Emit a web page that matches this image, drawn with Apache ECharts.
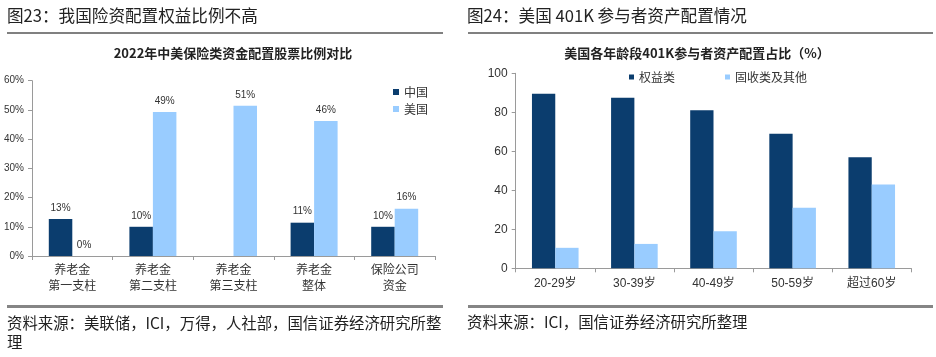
<!DOCTYPE html>
<html><head><meta charset="utf-8">
<script src="https://cdn.jsdelivr.net/npm/echarts@6/dist/echarts.min.js"></script>
<style>html,body{margin:0;padding:0;background:#fff}#c{width:936px;height:357px}</style>
</head><body><div id="c"></div>
<script>
// Left chart data
const leftCategories = ['养老金\n第一支柱', '养老金\n第二支柱', '养老金\n第三支柱', '养老金\n整体', '保险公司\n资金'];
const chinaValues = [12.7, 10.0, null, 11.4, 10.0];
const usValues = [0, 49.3, 51.4, 46.2, 16.2];
const leftTicks = [0, 10, 20, 30, 40, 50, 60];
// Right chart data
const rightCategories = ['20-29岁', '30-39岁', '40-49岁', '50-59岁', '超过60岁'];
const equityValues = [89.5, 87.5, 81.0, 69.0, 57.0];
const fixedValues = [10.5, 12.5, 19.0, 31.0, 43.0];
const rightTicks = [0, 20, 40, 60, 80, 100];

const DARK = '#0B3D6E', LIGHT = '#99CCFF';
const FONT = "'Liberation Sans','Noto Sans CJK SC',sans-serif";
const CJK = "'Noto Sans CJK SC',sans-serif";
const axisColor = '#9a9a9a';

const chart = echarts.init(document.getElementById('c'), null, {renderer: 'canvas'});

function yAxis(gridIndex, ticks, fmt, fs) {
  return {
    type: 'value', gridIndex, min: ticks[0], max: ticks[ticks.length - 1],
    interval: ticks[1] - ticks[0],
    axisLine: {show: true, lineStyle: {color: axisColor, width: 1}},
    axisTick: {show: true, length: 4, lineStyle: {color: axisColor}},
    splitLine: {show: false},
    axisLabel: {formatter: fmt, color: '#333', fontSize: fs, fontFamily: FONT, margin: 8}
  };
}
function xAxis(gridIndex, cats, margin, lh) {
  return {
    type: 'category', gridIndex, data: cats,
    axisLine: {show: true, lineStyle: {color: axisColor, width: 1}},
    axisTick: {show: true, length: 4, lineStyle: {color: axisColor}},
    axisLabel: {color: '#333', fontSize: 12, fontFamily: FONT, margin, lineHeight: lh, interval: 0}
  };
}

const graphics = [
  {type: 'text', left: 7, top: 7, style: {text: '图23：我国险资配置权益比例不高', font: '16.6px ' + CJK, fill: '#222'}},
  {type: 'text', left: 467, top: 7, style: {text: '图24：美国 401K 参与者资产配置情况', font: '16.6px ' + CJK, fill: '#222'}},
  {type: 'line', shape: {x1: 7, y1: 33, x2: 443, y2: 33}, style: {stroke: '#808080', lineWidth: 2}},
  {type: 'line', shape: {x1: 468, y1: 33, x2: 933, y2: 33}, style: {stroke: '#808080', lineWidth: 2}},
  {type: 'text', x: 233, y: 53, style: {text: '2022年中美保险类资金配置股票比例对比', font: 'bold 13px ' + CJK, fill: '#222', align: 'center', verticalAlign: 'middle'}},
  {type: 'text', x: 697, y: 53, style: {text: '美国各年龄段401K参与者资产配置占比（%）', font: 'bold 13px ' + CJK, fill: '#222', align: 'center', verticalAlign: 'middle'}},
  {type: 'line', shape: {x1: 7, y1: 306.5, x2: 443, y2: 306.5}, style: {stroke: '#858585', lineWidth: 3}},
  {type: 'line', shape: {x1: 468, y1: 306.5, x2: 933, y2: 306.5}, style: {stroke: '#858585', lineWidth: 3}},
  {type: 'text', left: 7, top: 314, style: {text: '资料来源：美联储，ICI，万得，人社部，国信证券经济研究所整\n理', font: '15.4px ' + CJK, lineHeight: 19, fill: '#222'}},
  {type: 'text', left: 467, top: 314, style: {text: '资料来源：ICI，国信证券经济研究所整理', font: '15.4px ' + CJK, fill: '#222'}}
];

const labelFmt = p => (p.value === null || p.value === undefined) ? '' : Math.round(p.value) + '%';

chart.setOption({
  animation: false,
  textStyle: {fontFamily: FONT},
  grid: [
    {left: 32, top: 80.7, width: 403, height: 175.3},
    {left: 515.7, top: 73.3, width: 395.6, height: 195}
  ],
  xAxis: [xAxis(0, leftCategories, 7, 16), xAxis(1, rightCategories, 8, 14)],
  yAxis: [yAxis(0, leftTicks, '{value}%', 10), yAxis(1, rightTicks, '{value}', 12)],
  legend: [
    {data: ['中国', '美国'], orient: 'vertical', left: 388, top: 81, itemWidth: 6, itemHeight: 6, itemGap: 5,
     icon: 'rect', textStyle: {fontSize: 12, color: '#333', fontFamily: CJK}},
    {data: ['权益类', '固收类及其他'], orient: 'horizontal', left: 624, top: 66, itemWidth: 5, itemHeight: 5, itemGap: 50,
     icon: 'rect', textStyle: {fontSize: 12, color: '#333', fontFamily: CJK}}
  ],
  series: [
    {name: '中国', type: 'bar', xAxisIndex: 0, yAxisIndex: 0, data: chinaValues, barWidth: 23.5, barGap: '0%',
     itemStyle: {color: DARK},
     label: {show: true, position: 'top', distance: 6, formatter: labelFmt, fontSize: 10, color: '#333', fontFamily: FONT}},
    {name: '美国', type: 'bar', xAxisIndex: 0, yAxisIndex: 0, data: usValues, barWidth: 23.5, barGap: '0%',
     itemStyle: {color: LIGHT},
     label: {show: true, position: 'top', distance: 6, formatter: labelFmt, fontSize: 10, color: '#333', fontFamily: FONT}},
    {name: '权益类', type: 'bar', xAxisIndex: 1, yAxisIndex: 1, data: equityValues, barWidth: 23.3, barGap: '0%',
     itemStyle: {color: DARK}},
    {name: '固收类及其他', type: 'bar', xAxisIndex: 1, yAxisIndex: 1, data: fixedValues, barWidth: 23.3, barGap: '0%',
     itemStyle: {color: LIGHT}}
  ],
  graphic: graphics
});
</script></body></html>
